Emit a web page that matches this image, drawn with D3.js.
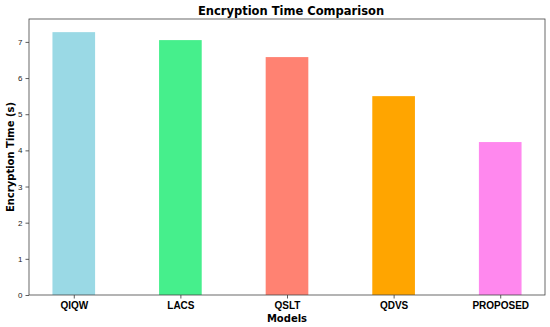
<!DOCTYPE html>
<html>
<head>
<meta charset="utf-8">
<script src="https://cdn.jsdelivr.net/npm/d3@7"></script>
<style>
  body { margin: 0; background: #fff; }
  svg { font-family: "DejaVu Sans", sans-serif; }
</style>
</head>
<body>
<svg width="550" height="327"></svg>
<script>
var models = ["QIQW", "LACS", "QSLT", "QDVS", "PROPOSED"];
var times = [7.27, 7.05, 6.58, 5.50, 4.23];
var colors = ["#9ad9e5", "#46ef8c", "#ff8272", "#ffa500", "#ff88ee"];
var yTicks = [0, 1, 2, 3, 4, 5, 6, 7];

var svg = d3.select("svg"),
    margin = {top: 19, right: 5, bottom: 32, left: 29},
    width = +svg.attr("width") - margin.left - margin.right,
    height = +svg.attr("height") - margin.top - margin.bottom,
    g = svg.append("g").attr("transform", "translate(" + margin.left + "," + margin.top + ")");

// matplotlib-like limits: bar width 0.4, 5% margins
var barW = 0.4;
var xmin = -barW / 2, xmax = models.length - 1 + barW / 2;
var xpad = (xmax - xmin) * 0.05;
var x = d3.scaleLinear()
    .domain([xmin - xpad, xmax + xpad])
    .range([0, width]);

var y = d3.scaleLinear()
    .domain([0, d3.max(times) * 1.05])
    .range([height, 0]);

g.selectAll(".bar")
  .data(models)
  .enter().append("rect")
    .attr("class", "bar")
    .attr("x", function(d, i) { return x(i - barW / 2); })
    .attr("width", function() { return x(barW) - x(0); })
    .attr("y", function(d, i) { return y(times[i]); })
    .attr("height", function(d, i) { return y(0) - y(times[i]); })
    .attr("fill", function(d, i) { return colors[i]; });

var yAxis = g.append("g")
    .call(d3.axisLeft(y).tickValues(yTicks).tickSize(3.5).tickPadding(3).tickFormat(d3.format("d")));
yAxis.select(".domain").remove();
yAxis.selectAll("text").attr("font-size", 8).attr("fill", "#222");
yAxis.selectAll("line").attr("stroke", "#333").attr("stroke-width", 0.8);

var xAxis = g.append("g")
    .attr("transform", "translate(0," + height + ")")
    .call(d3.axisBottom(x).tickValues(d3.range(models.length)).tickSize(3.5).tickPadding(3)
      .tickFormat(function(i) { return models[i]; }));
xAxis.select(".domain").remove();
xAxis.selectAll("text").attr("font-size", 10).attr("font-weight", "bold").attr("fill", "#000");
xAxis.selectAll("line").attr("stroke", "#333").attr("stroke-width", 0.8);

// frame
g.append("rect")
    .attr("width", width)
    .attr("height", height)
    .attr("fill", "none")
    .attr("stroke", "#444")
    .attr("stroke-width", 0.8);

svg.append("text")
    .attr("x", margin.left + width / 2 + 4)
    .attr("y", 15)
    .attr("text-anchor", "middle")
    .attr("font-size", 11.5)
    .attr("font-weight", "bold")
    .text("Encryption Time Comparison");

svg.append("text")
    .attr("x", margin.left + width / 2)
    .attr("y", 322)
    .attr("text-anchor", "middle")
    .attr("font-size", 10)
    .attr("font-weight", "bold")
    .text("Models");

svg.append("text")
    .attr("transform", "translate(13.5," + (margin.top + height / 2) + ") rotate(-90)")
    .attr("text-anchor", "middle")
    .attr("font-size", 10)
    .attr("font-weight", "bold")
    .text("Encryption Time (s)");
</script>
</body>
</html>
